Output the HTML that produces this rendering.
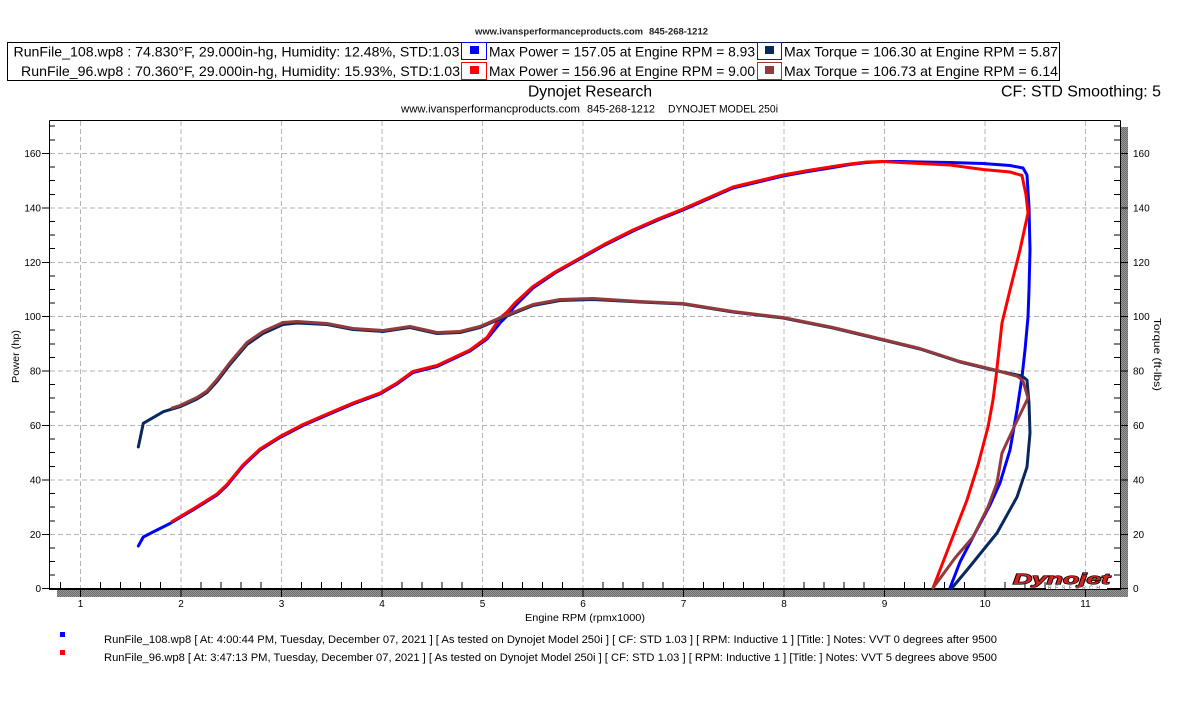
<!DOCTYPE html>
<html>
<head>
<meta charset="utf-8">
<style>
html,body{margin:0;padding:0;background:#fff;}
svg{display:block;font-family:"Liberation Sans",sans-serif;}
</style>
</head>
<body>
<svg width="1181" height="709" viewBox="0 0 1181 709" xmlns="http://www.w3.org/2000/svg">
<defs>
<pattern id="chk" width="2" height="2" patternUnits="userSpaceOnUse">
<rect width="2" height="2" fill="#9a9a9a"/>
<rect width="1" height="1" fill="#6a6a6a"/>
<rect x="1" y="1" width="1" height="1" fill="#6a6a6a"/>
</pattern>
</defs>
<rect width="1181" height="709" fill="#fff"/>

<!-- header -->
<text x="475" y="34.5" font-size="9" font-weight="bold" fill="#222" textLength="168" lengthAdjust="spacingAndGlyphs">www.ivansperformanceproducts.com</text>
<text x="649" y="34.5" font-size="9" font-weight="bold" fill="#222" textLength="59" lengthAdjust="spacingAndGlyphs">845-268-1212</text>

<!-- legend box -->
<rect x="7.5" y="42.5" width="1052" height="38" fill="none" stroke="#000" stroke-width="1"/>
<text x="13.5" y="56.5" font-size="14" fill="#000" textLength="446" lengthAdjust="spacingAndGlyphs">RunFile_108.wp8 : 74.830°F, 29.000in-hg, Humidity: 12.48%, STD:1.03</text>
<text x="21" y="76" font-size="14" fill="#000" textLength="439" lengthAdjust="spacingAndGlyphs">RunFile_96.wp8 : 70.360°F, 29.000in-hg, Humidity: 15.93%, STD:1.03</text>
<rect x="461.5" y="42.5" width="25" height="17" fill="#fff" stroke="#0000ff"/>
<rect x="470" y="46" width="9" height="8" fill="#0000ff"/>
<rect x="461.5" y="62.5" width="25" height="17" fill="#fff" stroke="#ff0000"/>
<rect x="470" y="66" width="9" height="8" fill="#ff0000"/>
<text x="489" y="56.5" font-size="14" fill="#000" textLength="266" lengthAdjust="spacingAndGlyphs">Max Power = 157.05 at Engine RPM = 8.93</text>
<text x="489" y="76" font-size="14" fill="#000" textLength="266" lengthAdjust="spacingAndGlyphs">Max Power = 156.96 at Engine RPM = 9.00</text>
<rect x="757.5" y="42.5" width="24" height="17" fill="#fff" stroke="#0a2860"/>
<rect x="765" y="46" width="9" height="8" fill="#0a2860"/>
<rect x="757.5" y="62.5" width="24" height="17" fill="#fff" stroke="#953a3a"/>
<rect x="765" y="66" width="9" height="8" fill="#953a3a"/>
<text x="784" y="56.5" font-size="14" fill="#000" textLength="274" lengthAdjust="spacingAndGlyphs">Max Torque = 106.30 at Engine RPM = 5.87</text>
<text x="784" y="76" font-size="14" fill="#000" textLength="274" lengthAdjust="spacingAndGlyphs">Max Torque = 106.73 at Engine RPM = 6.14</text>

<!-- titles -->
<text x="528" y="96.5" font-size="16" fill="#000" textLength="124" lengthAdjust="spacingAndGlyphs">Dynojet Research</text>
<text x="1001" y="96.5" font-size="16" fill="#000" textLength="160" lengthAdjust="spacingAndGlyphs">CF: STD Smoothing: 5</text>
<text x="401" y="112.3" font-size="11" fill="#000" textLength="179" lengthAdjust="spacingAndGlyphs">www.ivansperformancproducts.com</text>
<text x="587" y="112.3" font-size="11" fill="#000" textLength="68" lengthAdjust="spacingAndGlyphs">845-268-1212</text>
<text x="668" y="112.3" font-size="11" fill="#000" textLength="110" lengthAdjust="spacingAndGlyphs">DYNOJET MODEL 250i</text>

<!-- shadows -->
<rect x="1121" y="127" width="7" height="470" fill="url(#chk)"/>
<rect x="57" y="590" width="1071" height="7" fill="url(#chk)"/>

<!-- grid -->
<g stroke="#b8b2b8" stroke-width="1" stroke-dasharray="5,3" fill="none">
<line x1="80.5" y1="121" x2="80.5" y2="588"/>
<line x1="181" y1="121" x2="181" y2="588"/>
<line x1="281.5" y1="121" x2="281.5" y2="588"/>
<line x1="382" y1="121" x2="382" y2="588"/>
<line x1="482.5" y1="121" x2="482.5" y2="588"/>
<line x1="583" y1="121" x2="583" y2="588"/>
<line x1="683.5" y1="121" x2="683.5" y2="588"/>
<line x1="784" y1="121" x2="784" y2="588"/>
<line x1="884.5" y1="121" x2="884.5" y2="588"/>
<line x1="985" y1="121" x2="985" y2="588"/>
<line x1="1085.5" y1="121" x2="1085.5" y2="588"/>
<line x1="50" y1="534.5" x2="1120" y2="534.5"/>
<line x1="50" y1="480" x2="1120" y2="480"/>
<line x1="50" y1="425.5" x2="1120" y2="425.5"/>
<line x1="50" y1="371" x2="1120" y2="371"/>
<line x1="50" y1="316.5" x2="1120" y2="316.5"/>
<line x1="50" y1="262.5" x2="1120" y2="262.5"/>
<line x1="50" y1="208" x2="1120" y2="208"/>
<line x1="50" y1="153.5" x2="1120" y2="153.5"/>
</g>

<!-- axes frame -->
<g stroke="#000" fill="none">
<line x1="49.5" y1="120.5" x2="1120.5" y2="120.5" stroke-width="1"/>
<line x1="49.5" y1="120.5" x2="49.5" y2="589" stroke-width="1"/>
<line x1="1120.5" y1="120.5" x2="1120.5" y2="589" stroke-width="1"/>
<line x1="49" y1="589" x2="1121" y2="589" stroke-width="2"/>
</g>

<!-- ticks -->
<g stroke="#000" stroke-width="1">
<path d="M42 588.5H49 M42 534.5H49 M42 480H49 M42 425.5H49 M42 371H49 M42 316.5H49 M42 262.5H49 M42 208H49 M42 153.5H49"/>
<path d="M49 575H55 M49 561.5H55 M49 548H55 M49 521H55 M49 507H55 M49 493.5H55 M49 466.5H55 M49 452.5H55 M49 439H55 M49 412H55 M49 398H55 M49 384.5H55 M49 357.5H55 M49 344H55 M49 330H55 M49 303H55 M49 289.5H55 M49 276H55 M49 248.5H55 M49 235H55 M49 221.5H55 M49 194.5H55 M49 180.5H55 M49 167H55 M49 140H55 M49 126H55"/>
<path d="M1120 588.5H1128 M1120 534.5H1128 M1120 480H1128 M1120 425.5H1128 M1120 371H1128 M1120 316.5H1128 M1120 262.5H1128 M1120 208H1128 M1120 153.5H1128"/>
<path d="M1114 575H1120 M1114 561.5H1120 M1114 548H1120 M1114 521H1120 M1114 507H1120 M1114 493.5H1120 M1114 466.5H1120 M1114 452.5H1120 M1114 439H1120 M1114 412H1120 M1114 398H1120 M1114 384.5H1120 M1114 357.5H1120 M1114 344H1120 M1114 330H1120 M1114 303H1120 M1114 289.5H1120 M1114 276H1120 M1114 248.5H1120 M1114 235H1120 M1114 221.5H1120 M1114 194.5H1120 M1114 180.5H1120 M1114 167H1120 M1114 140H1120 M1114 126H1120"/>
<path d="M80.5 589V597 M181 589V597 M281.5 589V597 M382 589V597 M482.5 589V597 M583 589V597 M683.5 589V597 M784 589V597 M884.5 589V597 M985 589V597 M1085.5 589V597"/>
<path d="M60.5 582V589 M100.5 582V589 M120.5 582V589 M140.5 582V589 M160.5 582V589 M201 582V589 M221 582V589 M241 582V589 M261 582V589 M301.5 582V589 M321.5 582V589 M341.5 582V589 M361.5 582V589 M402 582V589 M422 582V589 M442 582V589 M462 582V589 M502.5 582V589 M522.5 582V589 M542.5 582V589 M562.5 582V589 M603 582V589 M623 582V589 M643 582V589 M663 582V589 M703.5 582V589 M723.5 582V589 M743.5 582V589 M763.5 582V589 M804 582V589 M824 582V589 M844 582V589 M864 582V589 M904.5 582V589 M924.5 582V589 M944.5 582V589 M964.5 582V589 M1005 582V589 M1025 582V589 M1045 582V589 M1065 582V589 M1105.5 582V589"/>
</g>

<!-- y labels -->
<g font-size="10" fill="#000" text-anchor="end">
<text x="41" y="592">0</text>
<text x="41" y="538">20</text>
<text x="41" y="483.5">40</text>
<text x="41" y="429">60</text>
<text x="41" y="374.5">80</text>
<text x="41" y="320">100</text>
<text x="41" y="266">120</text>
<text x="41" y="211.5">140</text>
<text x="41" y="157">160</text>
</g>
<g font-size="10" fill="#000" text-anchor="start">
<text x="1133" y="592">0</text>
<text x="1133" y="538">20</text>
<text x="1133" y="483.5">40</text>
<text x="1133" y="429">60</text>
<text x="1133" y="374.5">80</text>
<text x="1133" y="320">100</text>
<text x="1133" y="266">120</text>
<text x="1133" y="211.5">140</text>
<text x="1133" y="157">160</text>
</g>
<g font-size="10" fill="#000" text-anchor="middle">
<text x="80.5" y="607">1</text>
<text x="181" y="607">2</text>
<text x="281.5" y="607">3</text>
<text x="382" y="607">4</text>
<text x="482.5" y="607">5</text>
<text x="583" y="607">6</text>
<text x="683.5" y="607">7</text>
<text x="784" y="607">8</text>
<text x="884.5" y="607">9</text>
<text x="985" y="607">10</text>
<text x="1085.5" y="607">11</text>
</g>

<!-- axis titles -->
<text x="525" y="621" font-size="10.5" fill="#000" textLength="120" lengthAdjust="spacingAndGlyphs">Engine RPM (rpmx1000)</text>
<text transform="translate(19,383) rotate(-90)" font-size="10" fill="#000" textLength="53" lengthAdjust="spacingAndGlyphs">Power (hp)</text>
<text transform="translate(1154,318) rotate(90)" font-size="10" fill="#000" textLength="73" lengthAdjust="spacingAndGlyphs">Torque (ft-lbs)</text>

<!-- curves -->
<g fill="none" stroke-width="3" stroke-linejoin="round" stroke-linecap="round">
<polyline stroke="#0000ff" points="138.3,546 143.3,537 153,532 170,523.5 193,510 217,495 227,485.5 243,466 260,450 280,437.5 303,425.5 333,412.5 353,404 380,394 397,384 413,372.5 437,366.5 453,359 470,351 487,339 500,323 507,316 515,306 533,288 555,273 580,259 605,245 633,231 658,220 683,210 708,199 733,188 758,182 783,176 808,171.5 833,167.5 850,164.5 867,162.5 883,161.5 900,161.5 920,162 950,162.5 983,163.5 1010,165.5 1023,168 1027,175 1029,207 1030,250 1029,290 1028,317 1025,350 1022,377 1017,410 1010,450 1000,483 990,505 973,537 960,562 950,588"/>
<polyline stroke="#ff0000" points="172,521.5 193,509 217,494 227,484.5 243,465 260,449 280,436.5 303,424.5 333,411.5 353,403 380,393 397,383 413,371.5 437,365.5 453,358 470,350 487,337.5 500,318 507,312 515,303 533,286.5 555,272 580,258 605,244 633,230 658,219 683,209 708,198 733,187 758,181 783,175 808,170.5 833,166.5 850,164 867,162 883,161.5 900,162.5 950,165 983,169.5 1010,172 1022,175.5 1026,195 1028,213 1020,250 1010,290 1002,323 999,350 996,377 993,400 988,427 978,465 967,500 950,544 933,588"/>
<polyline stroke="#0a2860" points="138.3,447 143.3,423.3 163.3,411.7 180,406.7 197,399 207,392.5 217,381.5 230,364.5 247,344.5 263,333.5 283,324.5 297,323 327,324.5 353,329.5 383,331.5 410,327.5 437,333.5 460,332.5 480,327.5 503,317.5 533,305.5 560,300.5 593,299.5 640,302 683,304 733,312 783,318 833,328 883,340 920,349 960,362 993,370 1022,376 1027,380 1029,403 1030,433 1027,467 1017,497 997,533 967,570 952,588"/>
<polyline stroke="#953a3a" points="172,408 180,405.5 197,397.5 207,391 217,379.5 230,362.5 247,342.5 263,331.5 283,322.5 297,321.5 327,323.5 353,328.5 383,330.5 410,326.5 437,332.5 460,331.5 480,326.5 503,316.5 533,304.5 560,299.5 593,298.5 640,301.5 683,303.5 733,311.5 783,317.5 833,327.5 883,339.5 920,348.5 960,361.5 993,369.5 1018,376.5 1023,381 1028,398 1015,425 1002,453 997,483 988,507 973,537 955,558 933,588"/>
</g>

<!-- Dynojet logo -->
<rect x="1046" y="584" width="61" height="5" fill="#fff"/>
<text x="1013" y="584" font-size="15" font-weight="bold" font-style="italic" fill="#d42020" stroke="#000" stroke-width="1.2" paint-order="stroke" textLength="97" lengthAdjust="spacingAndGlyphs">Dynojet</text>
<text x="1048" y="589.5" font-size="5" fill="#555" textLength="52" lengthAdjust="spacing">RESEARCH</text>

<!-- bottom legend -->
<rect x="60" y="632" width="5" height="5" fill="#0000ff"/>
<rect x="60" y="650" width="5" height="5" fill="#ff0000"/>
<text x="104" y="643" font-size="11" fill="#000" textLength="893" lengthAdjust="spacingAndGlyphs">RunFile_108.wp8 [ At: 4:00:44 PM, Tuesday, December 07, 2021 ] [ As tested on Dynojet Model 250i ] [ CF: STD 1.03 ] [ RPM: Inductive 1 ] [Title: ]  Notes: VVT 0 degrees after 9500</text>
<text x="104" y="661" font-size="11" fill="#000" textLength="893" lengthAdjust="spacingAndGlyphs">RunFile_96.wp8 [ At: 3:47:13 PM, Tuesday, December 07, 2021 ] [ As tested on Dynojet Model 250i ] [ CF: STD 1.03 ] [ RPM: Inductive 1 ] [Title: ]  Notes: VVT 5 degrees above 9500</text>
</svg>
</body>
</html>
